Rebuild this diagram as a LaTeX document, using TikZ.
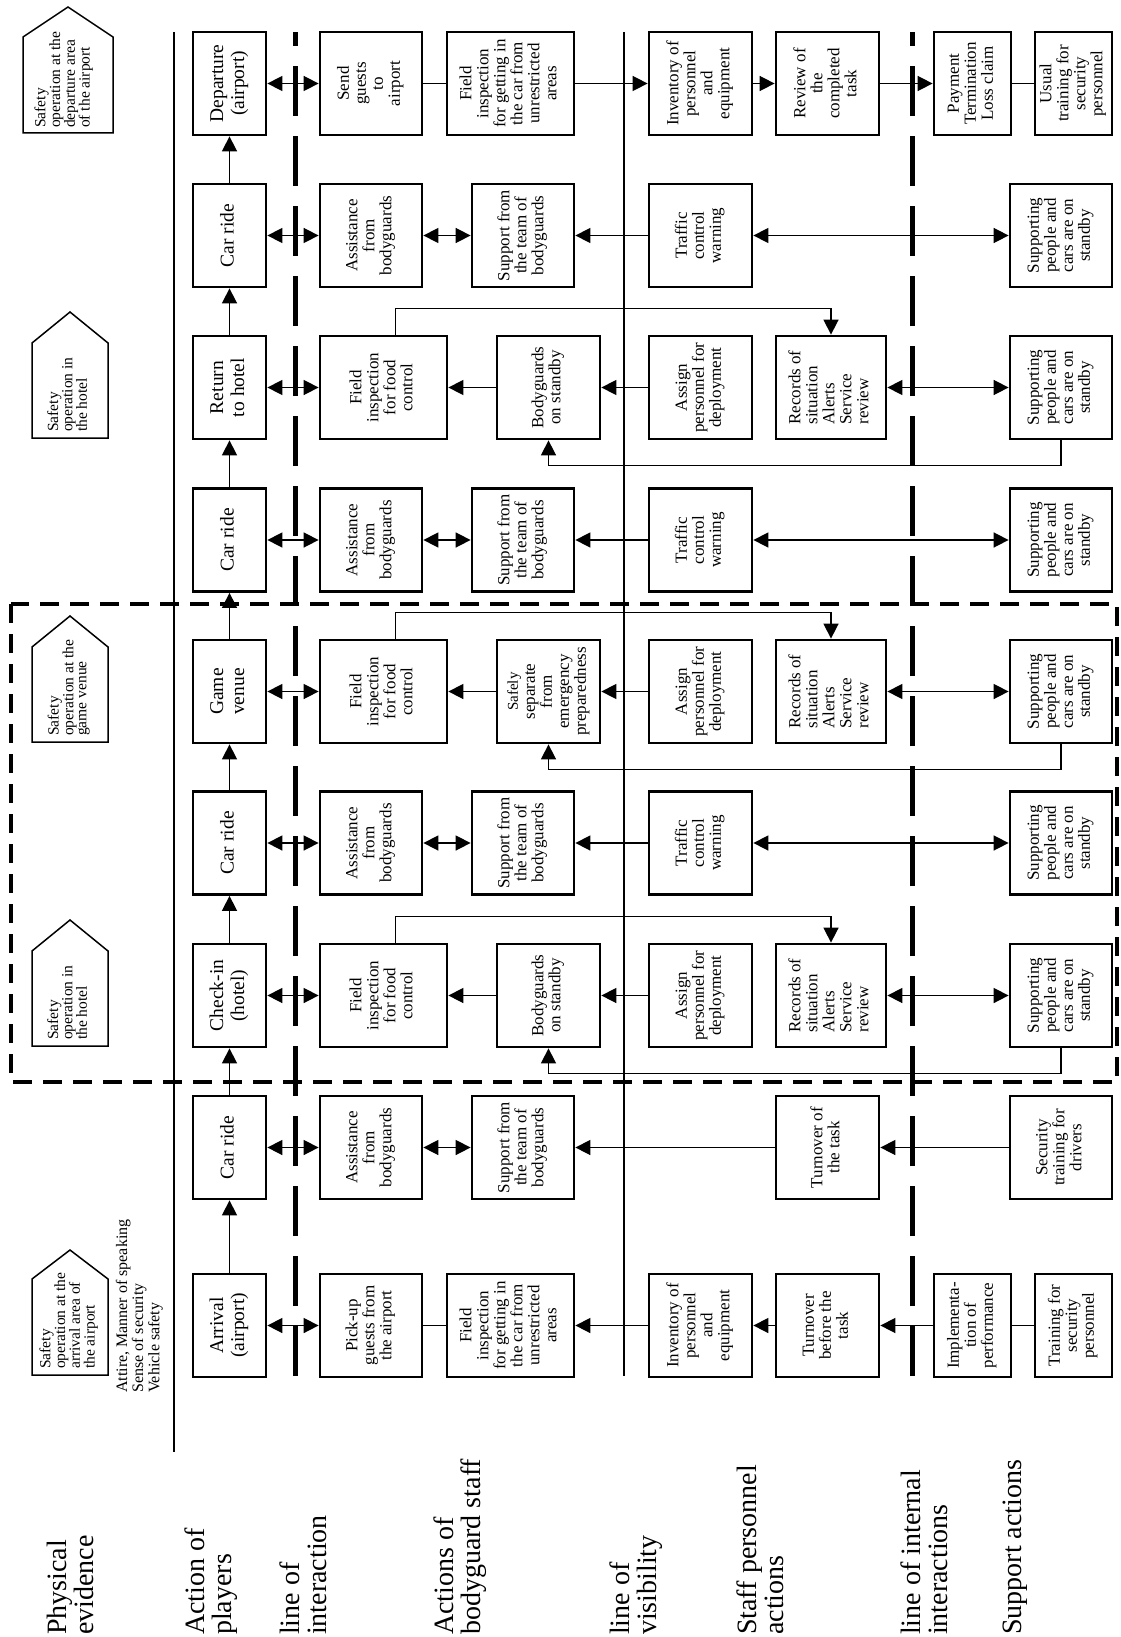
\documentclass[tikz,border=0pt]{standalone}
\usepackage{fontspec}
\setmainfont{Liberation Serif}
\usetikzlibrary{arrows.meta}

\newcommand{\vtext}[1]{\rotatebox{90}{\begin{tabular}{@{}c@{}}#1\end{tabular}}}
\newcommand{\vtextl}[1]{\rotatebox{90}{\begin{tabular}{@{}l@{}}#1\end{tabular}}}

\begin{document}
\begin{tikzpicture}[x=1pt, y=-1pt,
    box/.style={rectangle, draw=black, line width=2.8pt, inner sep=0pt, minimum height=103pt, font=\fontsize{17}{17}\selectfont},
    player/.style={box, minimum width=73pt, font=\fontsize{19.5}{21}\selectfont},
    guard/.style={box, minimum width=102pt},
    wide/.style={box, minimum width=127pt},
    staff/.style={box, minimum width=103pt},
    narrow/.style={box, minimum width=77pt},
    lanelabel/.style={anchor=south, inner sep=0pt, font=\fontsize{28}{26}\selectfont},
    evidence/.style={line width=1.5pt},
    evtext/.style={anchor=south, inner sep=0pt, font=\fontsize{15.5}{13}\selectfont},
    flow/.style={line width=1.6pt, -{Triangle[length=15pt, width=15pt]}},
    both/.style={line width=1.6pt, {Triangle[length=15pt, width=15pt]}-{Triangle[length=15pt, width=15pt]}},
    link/.style={line width=1.6pt},
    lane/.style={line width=1.6pt},
    boundary/.style={line width=5pt, dash pattern=on 50pt off 20pt}
]
\useasboundingbox (0,0) rectangle (1120,1637);

% Lane labels
\node[lanelabel] (lblevidence) at (74,1635) {\vtextl{Physical\\evidence}};
\node[lanelabel] (lblplayers) at (212,1635) {\vtextl{Action of\\players}};
\node[lanelabel] (lblinteract) at (307,1635) {\vtextl{line of\\interaction}};
\node[lanelabel] (lblguards) at (461,1635) {\vtextl{Actions of\\bodyguard staff}};
\node[lanelabel] (lblvisible) at (637,1635) {\vtextl{line of\\visibility}};
\node[lanelabel] (lblstaff) at (764,1635) {\vtextl{Staff personnel\\actions}};
\node[lanelabel] (lblinternal) at (928,1635) {\vtextl{line of internal\\interactions}};
\node[lanelabel] (lblsupport) at (1016,1635) {\vtextl{Support actions}};

% Lines
\draw[lane] (174,32) -- (174,1452);
\draw[lane] (624,32) -- (624,1376);
\draw[boundary] (295,1376) -- (295,32);
\draw[boundary] (912,1376) -- (912,32);

% Physical evidence
\draw[evidence] (32,1375) -- (32,1279) -- (70,1250) -- (108,1279) -- (108,1375) -- cycle;
\node[evtext] (ev1) at (69,1369) {\vtextl{Safety\\operation at the\\arrival area of\\the airport}};
\node[evtext, font=\fontsize{16}{16}\selectfont] (attire) at (140,1393) {\vtextl{Attire, Manner of speaking\\Sense of security\\Vehicle safety}};
\draw[evidence] (32,1046) -- (32,951) -- (70,920) -- (108,951) -- (108,1046) -- cycle;
\node[evtext] (ev3) at (69,1040) {\vtextl{Safety\\operation in\\the hotel}};
\draw[evidence] (32,742) -- (32,647) -- (70,616) -- (108,647) -- (108,742) -- cycle;
\node[evtext] (ev5) at (69,736) {\vtextl{Safety\\operation at the\\game venue}};
\draw[evidence] (32,438) -- (32,343) -- (70,312) -- (108,343) -- (108,438) -- cycle;
\node[evtext] (ev7) at (69,432) {\vtextl{Safety\\operation in\\the hotel}};
\draw[evidence] (23,133) -- (23,37) -- (68,7) -- (113,37) -- (113,133) -- cycle;
\node[evtext] (ev9) at (64,128) {\vtextl{Safety\\operation at the\\departure area\\of the airport}};

% Arrival
\node[player] (play1) at (229.5,1325.5) {\vtext{Arrival\\(airport)}};
\node[guard] (pickup1) at (371,1325.5) {\vtext{Pick-up\\guests from\\the airport}};
\node[wide] (check1) at (510.5,1325.5) {\vtext{Field\\inspection\\for getting in\\the car from\\unrestricted\\areas}};
\node[staff] (inventory1) at (700.5,1325.5) {\vtext{Inventory of\\personnel\\and\\equipment}};
\node[staff] (turnover1) at (827.5,1325.5) {\vtext{Turnover\\before the\\task}};
\node[narrow] (perform1) at (972.5,1325.5) {\vtext{Implementa-\\tion of\\performance}};
\node[narrow] (training1) at (1073.5,1325.5) {\vtext{Training for\\security\\personnel}};
\draw[both] (play1) -- (pickup1);
\draw[link] (pickup1) -- (check1);
\draw[flow] (inventory1) -- (check1);
\draw[flow] (turnover1) -- (inventory1);
\draw[flow] (perform1) -- (turnover1);
\draw[link] (perform1) -- (training1);

% First car ride
\node[player] (play2) at (229.5,1147.5) {\vtext{Car ride}};
\node[guard] (assist2) at (371,1147.5) {\vtext{Assistance\\from\\bodyguards}};
\node[guard] (team2) at (523,1147.5) {\vtext{Support from\\the team of\\bodyguards}};
\node[staff] (turnover2) at (827.5,1147.5) {\vtext{Turnover of\\the task}};
\node[guard] (drivers2) at (1061,1147.5) {\vtext{Security\\training for\\drivers}};
\draw[both] (play2) -- (assist2);
\draw[both] (assist2) -- (team2);
\draw[flow] (turnover2) -- (team2);
\draw[flow] (drivers2) -- (turnover2);

% Hotel and venue
\foreach \r/\y/\stepname/\crewtxt in {3/995.5/{Check-in\\(hotel)}/{Bodyguards\\on standby},
    5/691.5/{Game\\venue}/{\fontsize{15}{16}\selectfont Safely\\separate\\from\\emergency\\preparedness},
    7/387.5/{Return\\to hotel}/{Bodyguards\\on standby}} {
  \node[player] (play\r) at (229.5,\y) {\vtext{\stepname}};
  \node[wide] (food\r) at (383.5,\y) {\vtext{Field\\inspection\\for food\\control}};
  \node[staff] (standby\r) at (548.5,\y) {\vtext{\crewtxt}};
  \node[staff] (assign\r) at (700.5,\y) {\vtext{Assign\\personnel for\\deployment}};
  \node[box, minimum width=110pt] (records\r) at (831,\y) {\vtextl{Records of\\situation\\Alerts\\Service\\review}};
  \node[guard] (ready\r) at (1061,\y) {\vtext{Supporting\\people and\\cars are on\\standby}};
  \draw[both] (play\r) -- (food\r);
  \draw[flow] (standby\r) -- (food\r);
  \draw[flow] (assign\r) -- (standby\r);
  \draw[both] (records\r) -- (ready\r);
  \draw[flow] ([xshift=12pt]food\r.north) -- ++(0,-26) -| (records\r.north);
  \draw[flow] (ready\r.south) -- ++(0,25) -| (standby\r.south);
}

% Car rides
\foreach \r/\y in {4/843, 6/540, 8/235.5} {
  \node[player] (play\r) at (229.5,\y) {\vtext{Car ride}};
  \node[guard] (assist\r) at (371,\y) {\vtext{Assistance\\from\\bodyguards}};
  \node[guard] (team\r) at (523,\y) {\vtext{Support from\\the team of\\bodyguards}};
  \node[staff] (traffic\r) at (700.5,\y) {\vtext{Traffic\\control\\warning}};
  \node[guard] (ready\r) at (1061,\y) {\vtext{Supporting\\people and\\cars are on\\standby}};
  \draw[both] (play\r) -- (assist\r);
  \draw[both] (assist\r) -- (team\r);
  \draw[flow] (traffic\r) -- (team\r);
  \draw[both] (traffic\r) -- (ready\r);
}

% Departure
\node[player] (play9) at (229.5,83.5) {\vtext{Departure\\(airport)}};
\node[guard] (send9) at (371,83.5) {\vtext{Send\\guests\\to\\airport}};
\node[wide] (check9) at (510.5,83.5) {\vtext{Field\\inspection\\for getting in\\the car from\\unrestricted\\areas}};
\node[staff] (inventory9) at (700.5,83.5) {\vtext{Inventory of\\personnel\\and\\equipment}};
\node[staff] (review9) at (827.5,83.5) {\vtext{Review of\\the\\completed\\task}};
\node[narrow] (payment9) at (972.5,83.5) {\vtext{Payment\\Termination\\Loss claim}};
\node[narrow] (usual9) at (1073.5,83.5) {\vtext{Usual\\training for\\security\\personnel}};
\draw[both] (play9) -- (send9);
\draw[link] (send9) -- (check9);
\draw[flow] (check9) -- (inventory9);
\draw[flow] (inventory9) -- (review9);
\draw[flow] (review9) -- (payment9);
\draw[link] (payment9) -- (usual9);

% Journey of the players
\foreach \i/\j in {1/2, 2/3, 3/4, 4/5, 5/6, 6/7, 7/8, 8/9}
  \draw[flow] (play\i) -- (play\j);

% Event area
\draw[line width=4.5pt, dash pattern=on 19pt off 11pt] (11,604) rectangle (1117,1082);
\end{tikzpicture}
\end{document}
